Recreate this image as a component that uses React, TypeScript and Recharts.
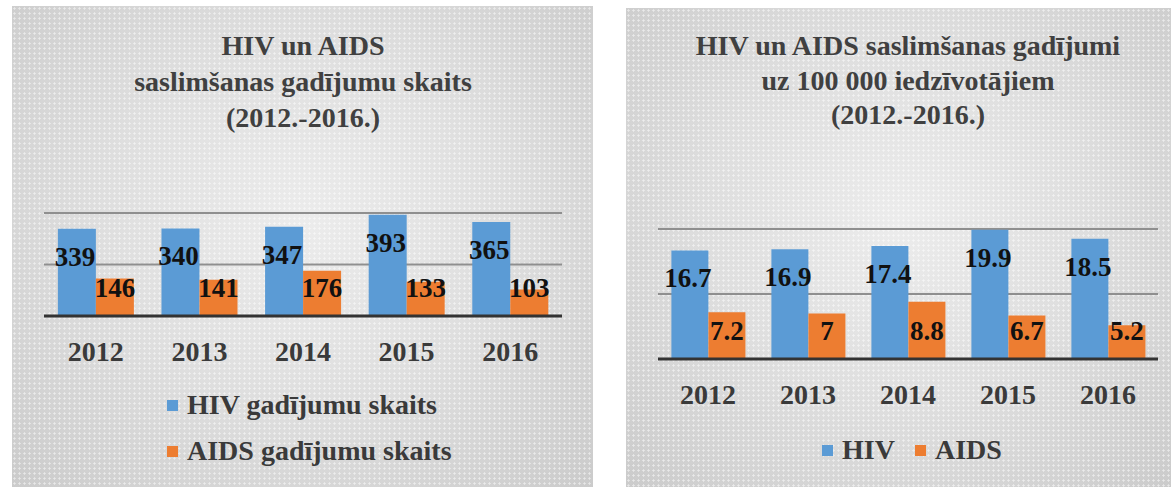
import React from 'react';
import { BarChart, Bar, XAxis, YAxis, CartesianGrid, LabelList } from 'recharts';

const years = ['2012', '2013', '2014', '2015', '2016'];
const hivCases = [339, 340, 347, 393, 365];
const aidsCases = [146, 141, 176, 133, 103];
const hivRate = [16.7, 16.9, 17.4, 19.9, 18.5];
const aidsRate = [7.2, 7, 8.8, 6.7, 5.2];
const countTicks = [0, 200, 400];
const rateTicks = [0, 10, 20];

const HIV_COLOR = '#5b9bd5';
const AIDS_COLOR = '#ed7d31';
const FONT = '"Liberation Serif", "Times New Roman", serif';

const panelBg =
  'radial-gradient(circle, rgba(255,255,255,0.55) 0.9px, transparent 1.3px) 0 0 / 5px 5px, ' +
  'radial-gradient(ellipse at 50% 45%, #ececec 0%, #dedede 50%, #cbcbcb 100%)';

type PanelProps = {
  left: number;
  top: number;
  width: number;
  height: number;
  title: string[];
  titleTop: number;
  titleLine: number;
  hiv: number[];
  aids: number[];
  ticks: number[];
  names: [string, string];
  margin: { top: number; right: number; bottom: number; left: number };
  legend: React.ReactNode;
};

const topLabel = (props: any) => {
  const { x, y, width, value } = props;
  return (
    <text x={x + width / 2 - 2} y={y + 28} textAnchor="middle" dominantBaseline="central"
      fontFamily={FONT} fontWeight="bold" fontSize={27} fill="#111">
      {value}
    </text>
  );
};

const bottomLabel = (props: any) => {
  const { x, y, width, height, value } = props;
  return (
    <text x={x + width / 2} y={y + height - 28} textAnchor="middle" dominantBaseline="central"
      fontFamily={FONT} fontWeight="bold" fontSize={27} fill="#111">
      {value}
    </text>
  );
};

const Swatch = ({ color }: { color: string }) => (
  <span style={{ display: 'inline-block', width: 11, height: 11, background: color, marginRight: 9 }} />
);

const legendText: React.CSSProperties = {
  fontFamily: FONT, fontWeight: 'bold', fontSize: 28, color: '#3a3a3a',
  display: 'flex', alignItems: 'center', position: 'absolute', whiteSpace: 'nowrap',
};

function Panel(p: PanelProps) {
  const data = years.map((year, i) => ({ year, hiv: p.hiv[i], aids: p.aids[i] }));
  const plotW = p.width - p.margin.left - p.margin.right;
  return (
    <div style={{ position: 'absolute', left: p.left, top: p.top, width: p.width, height: p.height, background: panelBg }}>
      <div style={{
        position: 'absolute', left: p.margin.left, width: plotW, top: p.titleTop, textAlign: 'center',
        fontFamily: FONT, fontWeight: 'bold', fontSize: 28, lineHeight: `${p.titleLine}px`, color: '#404040',
        whiteSpace: 'nowrap',
      }}>
        {p.title.map((t) => <div key={t}>{t}</div>)}
      </div>
      <BarChart width={p.width} height={p.height} data={data} margin={p.margin}
        barCategoryGap="13.4%" barGap={0} style={{ position: 'absolute', left: 0, top: 0 }}>
        <CartesianGrid horizontal vertical={false} stroke="#8f8f8f" strokeWidth={2} />
        <YAxis hide domain={[0, p.ticks[p.ticks.length - 1]]} ticks={p.ticks} />
        <XAxis dataKey="year" height={30} tickLine={false} tickMargin={19}
          axisLine={{ stroke: '#333', strokeWidth: 3 }}
          tick={{ fontFamily: FONT, fontWeight: 'bold', fontSize: 28, fill: '#3a3a3a' }} />
        <Bar dataKey="hiv" name={p.names[0]} fill={HIV_COLOR} isAnimationActive={false}>
          <LabelList dataKey="hiv" content={topLabel} />
        </Bar>
        <Bar dataKey="aids" name={p.names[1]} fill={AIDS_COLOR} isAnimationActive={false}>
          <LabelList dataKey="aids" content={bottomLabel} />
        </Bar>
      </BarChart>
      {p.legend}
    </div>
  );
}

export default function App() {
  return (
    <div style={{ position: 'absolute', left: 0, top: 0, width: 1171, height: 487, background: '#fff', overflow: 'hidden' }}>
      <Panel
        left={12} top={6} width={581} height={481}
        title={['HIV un AIDS', 'saslimšanas gadījumu skaits', '(2012.-2016.)']}
        titleTop={22} titleLine={36}
        hiv={hivCases} aids={aidsCases} ticks={countTicks}
        names={['HIV gadījumu skaits', 'AIDS gadījumu skaits']}
        margin={{ top: 207, right: 31, bottom: 141, left: 32 }}
        legend={
          <>
            <div style={{ ...legendText, left: 155, top: 383 }}><Swatch color={HIV_COLOR} />HIV gadījumu skaits</div>
            <div style={{ ...legendText, left: 155, top: 429 }}><Swatch color={AIDS_COLOR} />AIDS gadījumu skaits</div>
          </>
        }
      />
      <Panel
        left={626} top={8} width={545} height={479}
        title={['HIV un AIDS saslimšanas gadījumi', 'uz 100 000 iedzīvotājiem', '(2012.-2016.)']}
        titleTop={21} titleLine={34.5}
        hiv={hivRate} aids={aidsRate} ticks={rateTicks}
        names={['HIV', 'AIDS']}
        margin={{ top: 221, right: 13, bottom: 98, left: 32 }}
        legend={
          <>
            <div style={{ ...legendText, left: 196, top: 426 }}><Swatch color={HIV_COLOR} />HIV</div>
            <div style={{ ...legendText, left: 289, top: 426 }}><Swatch color={AIDS_COLOR} />AIDS</div>
          </>
        }
      />
    </div>
  );
}
